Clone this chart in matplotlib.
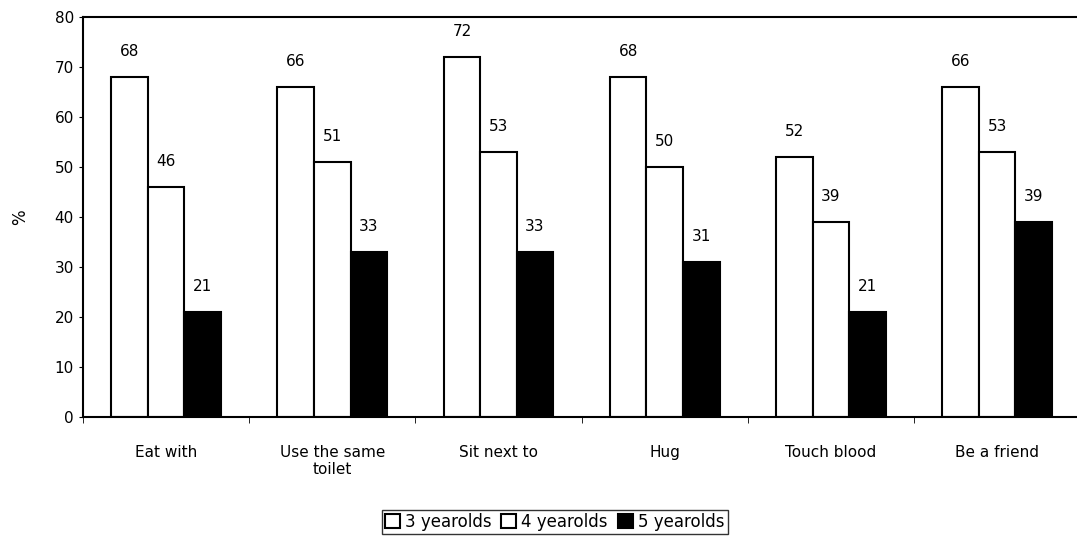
import matplotlib.pyplot as plt
import numpy as np

categories = ["Eat with", "Use the same\ntoilet", "Sit next to", "Hug", "Touch blood", "Be a friend"]
series_names = ["3 yearolds", "4 yearolds", "5 yearolds"]
three_yo = [68, 66, 72, 68, 52, 66]
four_yo = [46, 51, 53, 50, 39, 53]
five_yo = [21, 33, 33, 31, 21, 39]
yticks = [0, 10, 20, 30, 40, 50, 60, 70, 80]

FACES = ["white", "white", "black"]

fig = plt.figure(figsize=(10.77, 5.38), dpi=100)
ax = fig.add_axes([0.077, 0.225, 0.926, 0.743])

x = np.arange(len(categories))
width = 0.22
for i, vals in enumerate([three_yo, four_yo, five_yo]):
    bars = ax.bar(x + (i - 1) * width, vals, width, color=FACES[i],
                  edgecolor="black", linewidth=1.5, label=series_names[i])
    for b, v in zip(bars, vals):
        ax.text(b.get_x() + b.get_width() / 2, v + 3.6, str(v),
                ha="center", va="bottom", fontsize=11)

ax.set_xlim(-0.5, len(categories) - 0.5)
ax.set_ylim(0, 80)
ax.set_yticks(yticks)
ax.tick_params(axis="y", labelsize=11, length=3, direction="out")
ax.set_xticks(x)
ax.set_xticklabels(categories, fontsize=11)
ax.tick_params(axis="x", length=0, pad=20)
ax.set_xticks(np.arange(len(categories) + 1) - 0.5, minor=True)
ax.tick_params(axis="x", which="minor", length=4)
ax.set_ylabel("%", fontsize=12, labelpad=18)
ax.spines["right"].set_visible(False)
for s in ["left", "bottom", "top"]:
    ax.spines[s].set_linewidth(1.5)

leg = fig.legend(loc="center", bbox_to_anchor=(0.515, 0.03), ncol=3, fontsize=12,
                 frameon=True, fancybox=False, edgecolor="black",
                 handlelength=0.9, handleheight=0.9, handletextpad=0.3,
                 columnspacing=0.6, borderpad=0.2)
leg.get_frame().set_linewidth(1.0)

fig.savefig("out.png", dpi=100)
